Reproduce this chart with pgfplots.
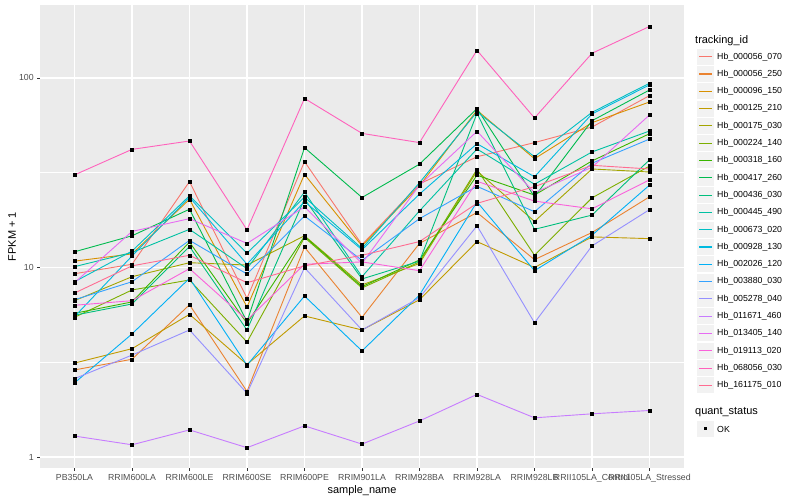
\documentclass[border=0pt]{standalone}
\usepackage{fontspec}
\setmainfont{Liberation Sans}
\usepackage{pgfplots}
\usepackage{pgfplotstable}
\pgfplotsset{compat=1.18}

% ggplot hue palette, 20 levels
\definecolor{c1}{HTML}{F8766D}
\definecolor{c2}{HTML}{EA8331}
\definecolor{c3}{HTML}{D89000}
\definecolor{c4}{HTML}{C09B00}
\definecolor{c5}{HTML}{A3A500}
\definecolor{c6}{HTML}{7CAE00}
\definecolor{c7}{HTML}{39B600}
\definecolor{c8}{HTML}{00BB4E}
\definecolor{c9}{HTML}{00BF7D}
\definecolor{c10}{HTML}{00C1A3}
\definecolor{c11}{HTML}{00BFC4}
\definecolor{c12}{HTML}{00BAE0}
\definecolor{c13}{HTML}{00B0F6}
\definecolor{c14}{HTML}{35A2FF}
\definecolor{c15}{HTML}{9590FF}
\definecolor{c16}{HTML}{C77CFF}
\definecolor{c17}{HTML}{E76BF3}
\definecolor{c18}{HTML}{FA62DB}
\definecolor{c19}{HTML}{FF62BC}
\definecolor{c20}{HTML}{FF6C91}
\definecolor{ggbg}{HTML}{EBEBEB}
\definecolor{ggkey}{HTML}{F2F2F2}
\definecolor{gg30}{HTML}{4D4D4D}
\definecolor{gg20}{HTML}{333333}

% FPKM + 1, one column per tracking_id, one row per sample
\pgfplotstableread{
x  s1   s2   s3   s4   s5   s6   s7    s8   s9   s10  s11  s12  s13  s14  s15  s16  s17  s18  s19  s20
0  9.27 2.88 10.8 3.13 6.68 5.46 5.73  12.1 5.6  10.1 8.41 5.5  2.46 6.76 2.59 1.29 8.31 6.32 30.8 7.33
1  10.4 3.28 11.8 3.73 8.94 7.61 6.58  14.7 6.42 12.0 12.2 11.5 4.46 8.41 3.45 1.16 15.5 6.68 42   10.2
2  28.4 6.36 22.9 5.66 10.6 8.59 13.6  20.3 12.9 15.9 23.9 23.5 8.77 13.9 4.68 1.39 18.1 9.86 46.5 11.6
3  6.88 2.22 6.19 3.08 10.3 4.04 5.08  5.18 4.68 9.86 11.9 10.4 3.05 9.24 2.17 1.12 13.4 5.28 15.8 8.31
4  36.2 12.8 31.0 5.55 14.7 14.4 14.6  42.9 23.0 25.0 23.5 22.3 7.07 18.7 9.98 1.46 20.9 10.4 78   10.2
5  13.2 5.46 13.0 4.68 8.09 7.80 7.92  23.4 8.7  8.94 12.6 12.4 3.63 10.9 4.68 1.17 10.5 10.7 51   11.6
6  27.6 13.4 27.0 6.76 10.5 10.7 10.96 35.1 10.8 19.9 28.0 24.4 7.16 18.1 6.93 1.55 27.2 9.62 45.6 13.7
7  38.4 19.5 67.5 13.7 32.3 33.0 30.7  68.9 65.0 42.2 66.2 45.0 22.2 26.8 16.6 2.14 52.3 28.5 140  21.8
8  45.6 11.0 37.5 10.0 17.5 11.6 24.1  23.6 15.9 27.5 38.4 30.1 9.62 19.7 5.11 1.61 24.8 22.4 61.5 26.7
9  55.1 15.3 58.1 14.5 33.1 23.3 36.5  59.5 18.9 40.7 65.9 64.6 14.8 35.5 13.0 1.69 33.8 20.4 135  34.6
10 80.7 23.6 74.7 14.2 31.9 34.3 50.8  86.4 37.0 52.5 93.8 91.9 27.2 47.6 20.2 1.76 63.8 29.0 187  33.1
}\fpkm

\begin{document}
\begin{tikzpicture}
\path (0,0) rectangle (800bp,500bp);

\begin{axis}[
    at={(40bp,32bp)}, anchor=south west,
    width=644bp, height=463bp, scale only axis,
    xmin=-0.6, xmax=10.6,
    ymode=log, ymin=0.875, ymax=242.7,
    xtick={0,...,10},
    xticklabels={PB350LA,RRIM600LA,RRIM600LE,RRIM600SE,RRIM600PE,RRIM901LA,RRIM928BA,RRIM928LA,RRIM928LB,RRII105LA\_Control,RRII105LA\_Stressed},
    ytick={1,10,100}, yticklabels={1,10,100},
    minor ytick={3.1623,31.623},
    grid=both,
    major grid style={white, line width=1.1bp},
    minor grid style={white, line width=0.55bp},
    axis background/.style={fill=ggbg},
    axis line style={draw=none},
    tick align=outside, tick pos=left,
    major tick length=2.75bp, minor tick length=0pt,
    tick style={gg20, line width=0.55bp},
    ticklabel style={font=\fontsize{8.8}{10}\selectfont, text=gg30},
    xlabel={sample\_name}, ylabel={FPKM + 1},
    label style={font=\fontsize{11}{13}\selectfont},
    xlabel style={yshift=3.5bp},
    ylabel style={yshift=-3.5bp},
]
% lines first, then the black points on top
\pgfplotsinvokeforeach{1,...,20}{
  \addplot[color=c#1, line width=0.9bp, mark=none] table[x=x, y=s#1]{\fpkm};
}
\pgfplotsinvokeforeach{1,...,20}{
  \addplot[only marks, mark=square*, mark size=1.5bp, black] table[x=x, y=s#1]{\fpkm};
}
\end{axis}

% legend: tracking_id
\node[anchor=west, inner sep=0pt, font=\fontsize{11}{13}\selectfont] at (695bp,459bp) {tracking\_id};
\foreach \n [count=\i] in {Hb\_000056\_070,Hb\_000056\_250,Hb\_000096\_150,Hb\_000125\_210,Hb\_000175\_030,Hb\_000224\_140,Hb\_000318\_160,Hb\_000417\_260,Hb\_000436\_030,Hb\_000445\_490,Hb\_000673\_020,Hb\_000928\_130,Hb\_002026\_120,Hb\_003880\_030,Hb\_005278\_040,Hb\_011671\_460,Hb\_013405\_140,Hb\_019113\_020,Hb\_068056\_030,Hb\_161175\_010}{
  \pgfmathsetmacro\yc{500-56.7-17.3*(\i-1)}
  \fill[ggkey] (697bp,\yc bp-8bp) rectangle (714bp,\yc bp+8bp);
  \draw[color=c\i, line width=1.1bp] (699bp,\yc bp) -- (712bp,\yc bp);
  \node[anchor=west, inner sep=0pt, font=\fontsize{8.8}{10}\selectfont] at (717bp,\yc bp) {\n};
}

% legend: quant_status
\node[anchor=west, inner sep=0pt, font=\fontsize{11}{13}\selectfont] at (695bp,88bp) {quant\_status};
\fill[ggkey] (697bp,63bp) rectangle (714bp,79bp);
\fill[black] (704bp,69.5bp) rectangle (707bp,72.5bp);
\node[anchor=west, inner sep=0pt, font=\fontsize{8.8}{10}\selectfont] at (717bp,71bp) {OK};
\end{tikzpicture}
\end{document}
